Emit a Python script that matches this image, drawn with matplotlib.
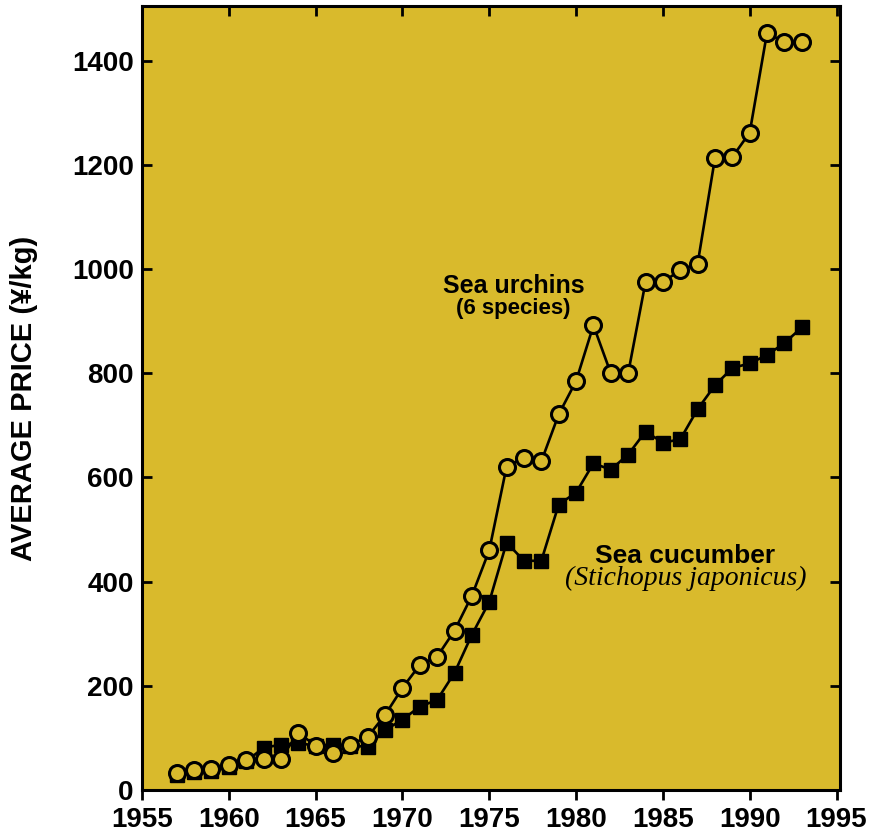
import matplotlib
matplotlib.use("Agg")
import matplotlib.pyplot as plt

# Sea urchins (6 species), open circles
urchin_years = list(range(1957, 1994))
urchin_price = [33, 38, 40, 48, 58, 60, 60, 110, 85, 71, 87, 102, 144,
                196, 240, 256, 306, 373, 460, 621, 638, 631, 721, 785,
                892, 800, 800, 975, 975, 998, 1010, 1213, 1215, 1262,
                1454, 1435, 1435]

# Sea cucumber (Stichopus japonicus), filled squares
cucumber_years = list(range(1957, 1994))
cucumber_price = [28, 35, 37, 45, 55, 81, 87, 90, 85, 87, 85, 83, 115,
                  135, 160, 173, 225, 298, 361, 475, 440, 440, 548, 571,
                  627, 615, 644, 688, 667, 673, 731, 777, 810, 819,
                  835, 858, 888]

x_ticks = [1955, 1960, 1965, 1970, 1975, 1980, 1985, 1990, 1995]
y_ticks = [0, 200, 400, 600, 800, 1000, 1200, 1400]

bg = '#d9ba2c'
plt.rcParams['font.family'] = ['Liberation Sans', 'DejaVu Sans']

fig = plt.figure(figsize=(8.71, 8.38), dpi=100)
ax = fig.add_axes([0.163, 0.0573, 0.8014, 0.9355])
ax.set_facecolor(bg)

ax.plot(cucumber_years, cucumber_price, '-', color='black', linewidth=1.9,
        marker='s', markersize=10, markerfacecolor='black',
        markeredgecolor='black', zorder=3)
ax.plot(urchin_years, urchin_price, '-', color='black', linewidth=1.9,
        marker='o', markersize=11.5, markerfacecolor=bg,
        markeredgecolor='black', markeredgewidth=2.2, zorder=4)

ax.set_xlim(1955, 1995.2)
ax.set_ylim(0, 1505)
ax.set_xticks(x_ticks)
ax.set_yticks(y_ticks)

for s in ax.spines.values():
    s.set_linewidth(2.2)

ax.tick_params(axis='y', direction='in', length=7, width=2,
               left=True, right=True, labelsize=20, pad=6)
ax.tick_params(axis='x', direction='out', length=7, width=2,
               bottom=True, labelsize=20, pad=5)
ax.tick_params(axis='x', which='major', top=True)
for t in ax.xaxis.get_major_ticks():
    t.tick2line.set_marker(matplotlib.lines.TICKDOWN)
for lbl in ax.get_xticklabels() + ax.get_yticklabels():
    lbl.set_fontweight('bold')

ax.set_ylabel('AVERAGE PRICE (¥/kg)', fontsize=21, fontweight='bold',
              labelpad=24)

ax.text(1976.4, 967, 'Sea urchins', fontsize=18, fontweight='bold',
        ha='center', va='center')
ax.text(1976.4, 925, '(6 species)', fontsize=16, fontweight='bold',
        ha='center', va='center')
ax.text(1986.3, 450, 'Sea cucumber', fontsize=19, fontweight='bold',
        ha='center', va='center')
ax.text(1986.3, 407, '(Stichopus japonicus)', fontsize=20, style='italic',
        family='Liberation Serif', ha='center', va='center')

plt.savefig('out.png', dpi=100)
